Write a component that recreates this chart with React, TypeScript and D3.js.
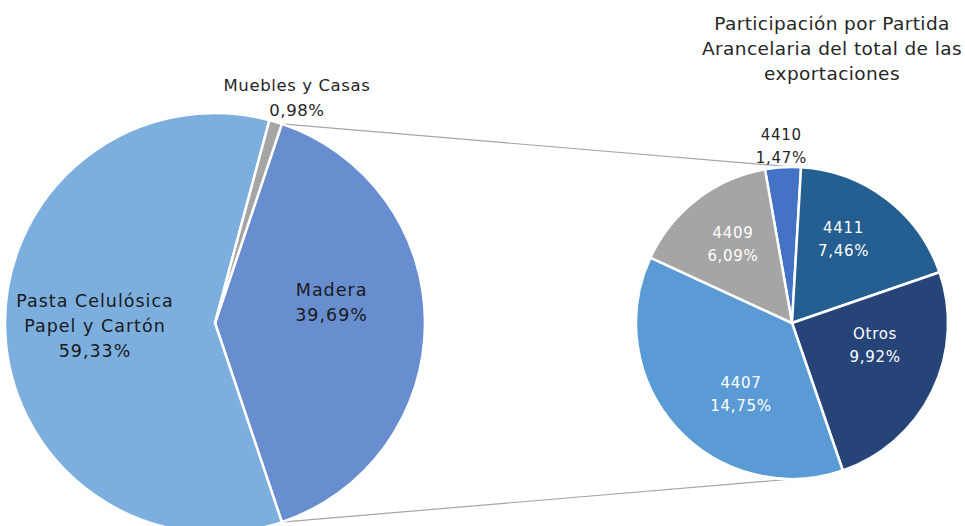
import React from 'react';
import * as d3 from 'd3';

// main pie
const mainLabels = ['Madera', 'Pasta Celulósica Papel y Cartón', 'Muebles y Casas'];
const mainValues = [39.69, 59.33, 0.98];
const mainColors = ['#698ED0', '#7DAFDE', '#A5A5A5'];

// breakdown of Madera
const subLabels = ['4410', '4411', 'Otros', '4407', '4409'];
const subValues = [1.47, 7.46, 9.92, 14.75, 6.09];
const subColors = ['#4472C4', '#255E91', '#264478', '#5B9BD5', '#A5A5A5'];

const titleLines = ['Participación por Partida', 'Arancelaria del total de las', 'exportaciones'];

const fmt = (v: number) => v.toFixed(2).replace('.', ',') + '%';
const rad = (deg: number) => (deg * Math.PI) / 180;

const W = 965;
const H = 526;
const FONT = "'DejaVu Sans', 'Open Sans', sans-serif";

export default function App() {
  const c1 = { x: 215, y: 323, r: 210 };
  const c2 = { x: 792, y: 323, r: 156 };

  // rotate so the Madera slice faces the secondary pie
  const maderaSpan = (mainValues[0] / d3.sum(mainValues)) * 360;
  const mainStart = 90 - maderaSpan / 2;

  const mainPie = d3.pie<number>().sort(null).value(d => d)
    .startAngle(rad(mainStart)).endAngle(rad(mainStart + 360));
  const subPie = d3.pie<number>().sort(null).value(d => d)
    .startAngle(rad(-10)).endAngle(rad(350));

  const mainArcs = mainPie(mainValues);
  const subArcs = subPie(subValues);

  const arc1 = d3.arc<d3.PieArcDatum<number>>().innerRadius(0).outerRadius(c1.r);
  const arc2 = d3.arc<d3.PieArcDatum<number>>().innerRadius(0).outerRadius(c2.r);

  const edge = (a: number, r: number, c: { x: number; y: number }) => [c.x + r * Math.sin(a), c.y - r * Math.cos(a)];
  const m = mainArcs[0];
  const p1 = edge(m.startAngle, c1.r, c1);
  const p2 = edge(m.endAngle, c1.r, c1);

  // label placement along the slice bisector, with small nudges
  const mainLabelPos = [
    { rf: 0.56, dx: -1, dy: -21, lines: ['Madera', fmt(mainValues[0])], color: '#1a1a1a' },
    { rf: 0.6, dx: 0, dy: -1, lines: ['Pasta Celulósica', 'Papel y Cartón', fmt(mainValues[1])], color: '#1a1a1a' },
    { rf: 1.12, dx: 14, dy: 0, lines: ['Muebles y Casas', fmt(mainValues[2])], color: '#262626' },
  ];
  const subLabelPos = [
    { rf: 1.18, dx: 0, dy: 7, color: '#262626' },
    { rf: 0.6, dx: -5, dy: -9, color: '#ffffff' },
    { rf: 0.6, dx: -1, dy: -19, color: '#ffffff' },
    { rf: 0.58, dx: 16, dy: 11, color: '#ffffff' },
    { rf: 0.62, dx: 0, dy: -2, color: '#ffffff' },
  ];

  const labelXY = (d: d3.PieArcDatum<number>, rf: number, r: number, c: { x: number; y: number }) => {
    const a = (d.startAngle + d.endAngle) / 2;
    return edge(a, r * rf, c);
  };

  const lineH = 25;

  return (
    <div style={{ position: 'absolute', left: 0, top: 0 }}>
      <svg width={W} height={H} style={{ display: 'block', fontFamily: FONT }}>
        <rect width={W} height={H} fill="#ffffff" />
        <line x1={p1[0]} y1={p1[1]} x2={c2.x} y2={c2.y - c2.r} stroke="#A6A6A6" strokeWidth={1.2} />
        <line x1={p2[0]} y1={p2[1]} x2={c2.x} y2={c2.y + c2.r} stroke="#A6A6A6" strokeWidth={1.2} />

        <g transform={`translate(${c1.x},${c1.y})`}>
          {mainArcs.map((d, i) => (
            <path key={i} d={arc1(d) || ''} fill={mainColors[i]} stroke="#ffffff" strokeWidth={2.5} strokeLinejoin="round" />
          ))}
        </g>
        <g transform={`translate(${c2.x},${c2.y})`}>
          {subArcs.map((d, i) => (
            <path key={i} d={arc2(d) || ''} fill={subColors[i]} stroke="#ffffff" strokeWidth={2.5} strokeLinejoin="round" />
          ))}
        </g>

        {mainArcs.map((d, i) => {
          const lp = mainLabelPos[i];
          let [x, y] = labelXY(d, lp.rf, c1.r, c1);
          if (i === 1) { x = 95; }
          x += lp.dx; y += lp.dy;
          const n = lp.lines.length;
          const fs = i === 2 ? 16.5 : 17.5;
          return (
            <text key={i} x={x} y={y} textAnchor="middle" fontSize={fs} letterSpacing={i === 2 ? 0.6 : 1} fill={lp.color}>
              {lp.lines.map((t, j) => (
                <tspan key={j} x={x} y={y + (j - (n - 1) / 2) * lineH + 6}>{t}</tspan>
              ))}
            </text>
          );
        })}

        {subArcs.map((d, i) => {
          const lp = subLabelPos[i];
          let [x, y] = labelXY(d, lp.rf, c2.r, c2);
          x += lp.dx; y += lp.dy;
          const lines = [subLabels[i], fmt(subValues[i])];
          return (
            <text key={i} x={x} y={y} textAnchor="middle" fontSize={15} letterSpacing={0.7} fill={lp.color}>
              {lines.map((t, j) => (
                <tspan key={j} x={x} y={y + (j - 0.5) * 23 + 5}>{t}</tspan>
              ))}
            </text>
          );
        })}

        <text textAnchor="middle" fontSize={18.5} letterSpacing={0.4} fill="#262626">
          {titleLines.map((t, j) => (
            <tspan key={j} x={832} y={30 + j * 25}>{t}</tspan>
          ))}
        </text>
      </svg>
    </div>
  );
}
